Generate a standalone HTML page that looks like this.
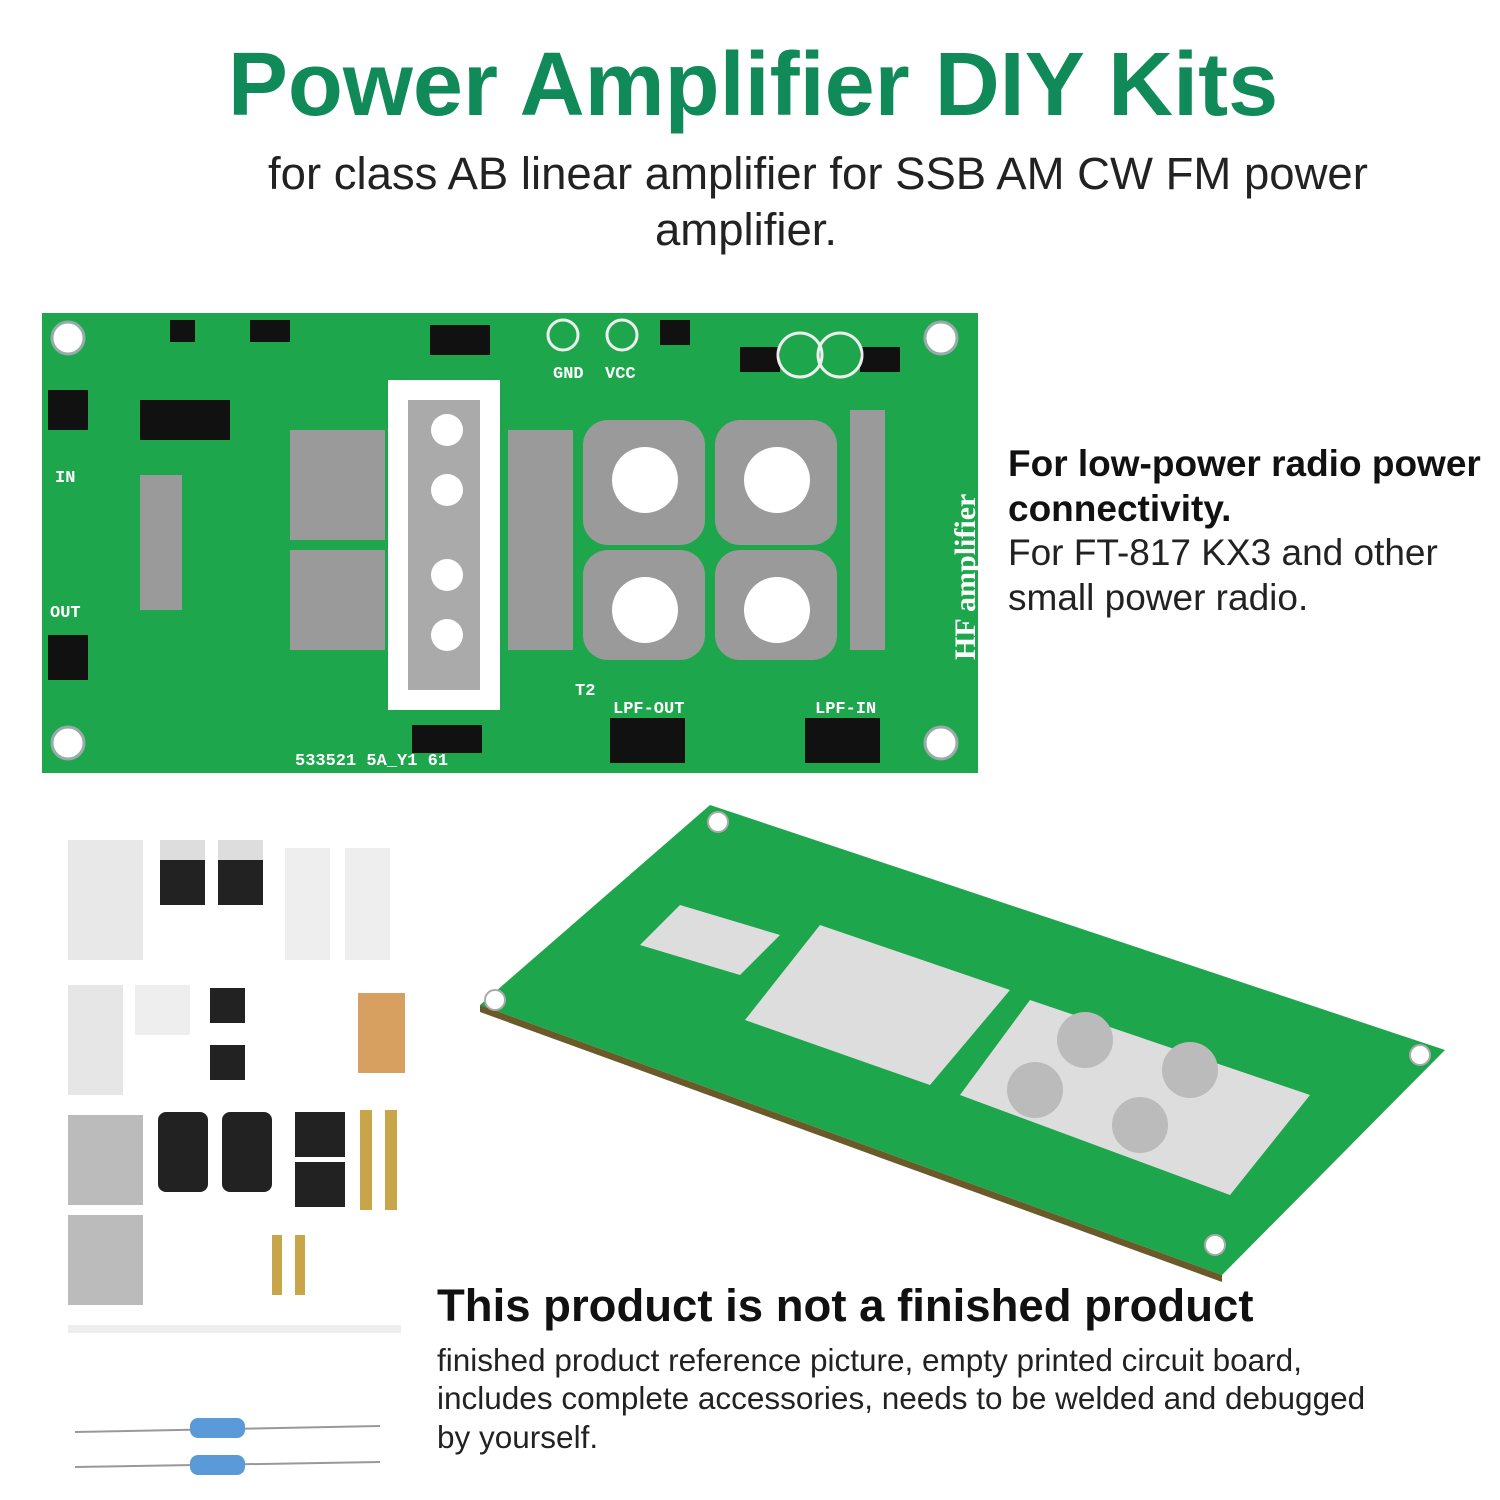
<!DOCTYPE html>
<html><head><meta charset="utf-8"><style>
body{margin:0;width:1500px;height:1500px;background:#fff;position:relative;overflow:hidden;font-family:"Liberation Sans",sans-serif}
.t{position:absolute;white-space:nowrap}
</style></head><body>
<div class="t" style="left:0;width:1500px;text-align:center;top:34px;font-size:90px;font-weight:bold;color:#0f8a58;margin-left:3px">Power Amplifier DIY Kits</div>
<div class="t" style="left:268px;top:148px;font-size:45.5px;color:#222">for class AB linear amplifier for SSB AM CW FM power</div>
<div class="t" style="left:655px;top:204px;font-size:45.5px;color:#222">amplifier.</div>

<svg style="position:absolute;left:0;top:0" width="1500" height="1500">
<rect x="42" y="313" width="936" height="460" fill="#1ea64c"/>
<g fill="#fff" stroke="#9aa" stroke-width="3">
<circle cx="68" cy="338" r="16"/><circle cx="941" cy="338" r="16"/><circle cx="68" cy="743" r="16"/><circle cx="941" cy="743" r="16"/>
</g>
<g fill="#9a9a9a">
<rect x="140" y="475" width="42" height="135"/>
<rect x="290" y="430" width="95" height="110"/>
<rect x="290" y="550" width="95" height="100"/>
<rect x="508" y="430" width="65" height="220"/>
<rect x="850" y="410" width="35" height="240"/>
<rect x="583" y="420" width="122" height="125" rx="25"/>
<rect x="715" y="420" width="122" height="125" rx="25"/>
<rect x="583" y="550" width="122" height="110" rx="25"/>
<rect x="715" y="550" width="122" height="110" rx="25"/>
</g>
<rect x="388" y="380" width="112" height="330" fill="#fff"/>
<rect x="408" y="400" width="72" height="290" fill="#aaa"/>
<g fill="#fff"><circle cx="645" cy="480" r="33"/><circle cx="777" cy="480" r="33"/><circle cx="645" cy="610" r="33"/><circle cx="777" cy="610" r="33"/>
<circle cx="447" cy="430" r="16"/><circle cx="447" cy="490" r="16"/><circle cx="447" cy="575" r="16"/><circle cx="447" cy="635" r="16"/></g>
<g fill="#111"><rect x="48" y="390" width="40" height="40"/><rect x="48" y="635" width="40" height="45"/><rect x="610" y="718" width="75" height="45"/><rect x="805" y="718" width="75" height="45"/><rect x="412" y="725" width="70" height="28"/>
<rect x="170" y="320" width="25" height="22"/><rect x="250" y="320" width="40" height="22"/><rect x="430" y="325" width="60" height="30"/><rect x="740" y="347" width="40" height="25"/><rect x="860" y="347" width="40" height="25"/><rect x="660" y="320" width="30" height="25"/><rect x="140" y="400" width="90" height="40"/></g>
<g fill="none" stroke="#eee" stroke-width="3"><circle cx="563" cy="335" r="15"/><circle cx="622" cy="335" r="15"/><circle cx="800" cy="355" r="22"/><circle cx="840" cy="355" r="22"/></g>
<g fill="#fff" font-family="Liberation Mono,monospace" font-size="17" font-weight="bold"><text x="55" y="482">IN</text><text x="50" y="617">OUT</text><text x="553" y="378">GND</text><text x="605" y="378">VCC</text><text x="613" y="713">LPF-OUT</text><text x="815" y="713">LPF-IN</text><text x="295" y="765">533521 5A_Y1 61</text><text x="575" y="695">T2</text></g>
<text x="0" y="0" transform="translate(975,660) rotate(-90)" font-family="Liberation Serif,serif" font-size="30" font-weight="bold" fill="#fff">HF amplifier</text>

<polygon points="710,805 1445,1050 1222,1275 480,1005" fill="#1ea64c"/>
<polygon points="480,1005 1222,1275 1222,1282 480,1012" fill="#6a5a2a"/>
<g fill="#ddd"><polygon points="820,925 1010,990 930,1085 745,1020"/><polygon points="1030,1000 1310,1095 1230,1195 960,1095"/><polygon points="680,905 780,935 740,975 640,945"/></g>
<g fill="#bbb"><circle cx="1085" cy="1040" r="28"/><circle cx="1190" cy="1070" r="28"/><circle cx="1035" cy="1090" r="28"/><circle cx="1140" cy="1125" r="28"/></g>
<g fill="#fff" stroke="#aaa" stroke-width="2"><circle cx="718" cy="822" r="10"/><circle cx="1420" cy="1055" r="10"/><circle cx="1215" cy="1245" r="10"/><circle cx="495" cy="1000" r="10"/></g>

<g>
<rect x="68" y="840" width="75" height="120" fill="#e8e8e8"/>
<rect x="160" y="840" width="45" height="45" fill="#ddd"/><rect x="160" y="860" width="45" height="45" fill="#222"/>
<rect x="218" y="840" width="45" height="45" fill="#ddd"/><rect x="218" y="860" width="45" height="45" fill="#222"/>
<rect x="285" y="848" width="45" height="112" fill="#eee"/><rect x="345" y="848" width="45" height="112" fill="#eee"/>
<rect x="68" y="985" width="55" height="110" fill="#e6e6e6"/><rect x="135" y="985" width="55" height="50" fill="#eee"/>
<rect x="210" y="988" width="35" height="35" fill="#222"/><rect x="210" y="1045" width="35" height="35" fill="#222"/>
<rect x="358" y="993" width="47" height="80" fill="#d8a060"/>
<rect x="68" y="1115" width="75" height="90" fill="#bbb"/><rect x="68" y="1215" width="75" height="90" fill="#bbb"/>
<rect x="158" y="1112" width="50" height="80" rx="8" fill="#222"/><rect x="222" y="1112" width="50" height="80" rx="8" fill="#222"/>
<rect x="295" y="1112" width="50" height="45" fill="#222"/><rect x="295" y="1162" width="50" height="45" fill="#222"/>
<rect x="360" y="1110" width="12" height="100" fill="#c9a54a"/><rect x="385" y="1110" width="12" height="100" fill="#c9a54a"/>
<rect x="272" y="1235" width="10" height="60" fill="#c9a54a"/><rect x="295" y="1235" width="10" height="60" fill="#c9a54a"/>
<rect x="68" y="1325" width="333" height="8" fill="#eee"/>
<line x1="75" y1="1432" x2="380" y2="1426" stroke="#999" stroke-width="2"/><line x1="75" y1="1467" x2="380" y2="1462" stroke="#999" stroke-width="2"/>
<rect x="190" y="1418" width="55" height="20" rx="8" fill="#5a9ad8"/><rect x="190" y="1455" width="55" height="20" rx="8" fill="#5a9ad8"/>
</g>
</svg>

<div class="t" style="left:1008px;top:443px;font-size:37px;font-weight:bold;color:#111">For low-power radio power</div>
<div class="t" style="left:1008px;top:488px;font-size:37px;font-weight:bold;color:#111">connectivity.</div>
<div class="t" style="left:1008px;top:532px;font-size:37px;color:#222">For FT-817 KX3 and other</div>
<div class="t" style="left:1008px;top:577px;font-size:37px;color:#222">small power radio.</div>

<div class="t" style="left:437px;top:1280px;font-size:45.5px;font-weight:bold;color:#111">This product is not a finished product</div>
<div class="t" style="left:437px;top:1342px;font-size:31.5px;color:#222">finished product reference picture, empty printed circuit board,</div>
<div class="t" style="left:437px;top:1380px;font-size:31.5px;color:#222">includes complete accessories, needs to be welded and debugged</div>
<div class="t" style="left:437px;top:1419px;font-size:31.5px;color:#222">by yourself.</div>
</body></html>
